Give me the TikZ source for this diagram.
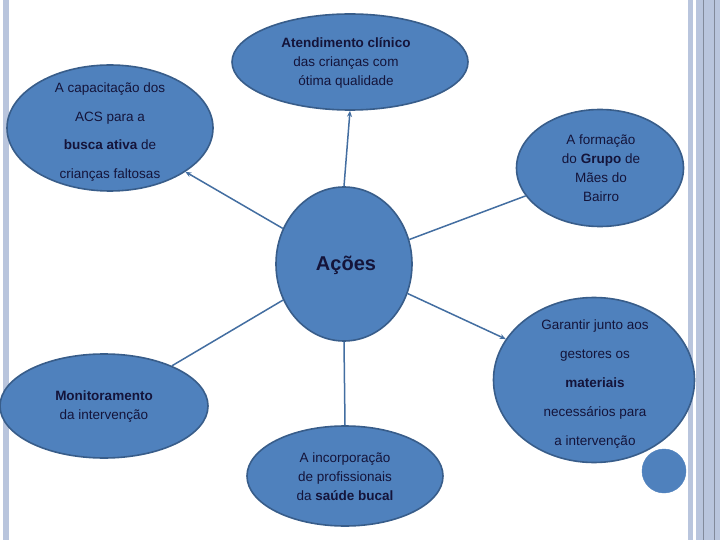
\documentclass[tikz,border=0pt]{standalone}
\usepackage{fontspec}
\setmainfont{Liberation Sans}
\usetikzlibrary{shapes.geometric,arrows.meta}
\definecolor{fillb}{HTML}{4F81BD}
\definecolor{edgeb}{HTML}{385D8A}
\definecolor{txt}{HTML}{14143A}
\definecolor{bord}{HTML}{B9C5DD}
\tikzset{
  blob/.style={ellipse,draw=edgeb,line width=1.6pt,fill=fillb,inner sep=0pt},
  tx/.style={text=txt,align=center,font=\fontsize{13.5}{19}\selectfont},
  txw/.style={text=txt,align=center,font=\fontsize{13.5}{28.8}\selectfont},
  conn/.style={draw=fillb!85!black,line width=1.5pt},
  arr/.style={conn,-{Stealth[length=6pt,width=5pt]}}
}
\begin{document}
\begin{tikzpicture}[x=1pt,y=-1pt]
\useasboundingbox (0,0) rectangle (720,540);
\fill[white] (0,0) rectangle (720,540);
\fill[bord] (3,0) rectangle (9,540);
\fill[bord] (688,0) rectangle (720,540);
\fill[white] (693,0) rectangle (696,540);
\draw[bord!70!black,line width=0.6pt] (703,0) -- (703,540);
\draw[bord!70!black,line width=0.6pt] (714,0) -- (714,540);

\node[blob,minimum width=136pt,minimum height=154pt] (acoes) at (344,264) {};
\node[text=txt,font=\bfseries\fontsize{20}{24}\selectfont] (acoest) at (346,265) {Ações};

\node[blob,minimum width=206pt,minimum height=126pt] (acs) at (110,128) {};
\node[txw] (acst) at (110,132) {A capacitação dos\\ACS para a\\\textbf{busca ativa} de\\crianças faltosas};

\node[blob,minimum width=236pt,minimum height=96pt] (atend) at (350,62) {};
\node[tx] (atendt) at (346,63) {\textbf{Atendimento clínico}\\das crianças com\\ótima qualidade};

\node[blob,minimum width=167pt,minimum height=117pt] (grupo) at (600,168) {};
\node[tx] (grupot) at (601,168) {A formação\\do \textbf{Grupo} de\\Mães do\\Bairro};

\node[blob,minimum width=201pt,minimum height=165pt] (gar) at (594,380) {};
\node[txw] (gart) at (595,384) {Garantir junto aos\\gestores os\\\textbf{materiais}\\necessários para\\a intervenção};

\node[circle,fill=fillb,draw=fillb,minimum size=44pt,inner sep=0pt] (small) at (664,471) {};

\node[blob,minimum width=208pt,minimum height=104pt] (mon) at (104,406) {};
\node[tx] (mont) at (104,407) {\textbf{Monitoramento}\\da intervenção};

\node[blob,minimum width=196pt,minimum height=100pt] (inc) at (345,476) {};
\node[tx] (inct) at (345,477) {A incorporação\\de profissionais\\da \textbf{saúde bucal}};

\draw[arr] (acoes) -- (acs);
\draw[arr] (acoes.north) -- (atend.south);
\draw[conn] (acoes) -- (grupo);
\draw[arr] (acoes) -- (gar);
\draw[conn] (acoes) -- (mon);
\draw[conn] (acoes.south) -- (inc.north);
\end{tikzpicture}
\end{document}
